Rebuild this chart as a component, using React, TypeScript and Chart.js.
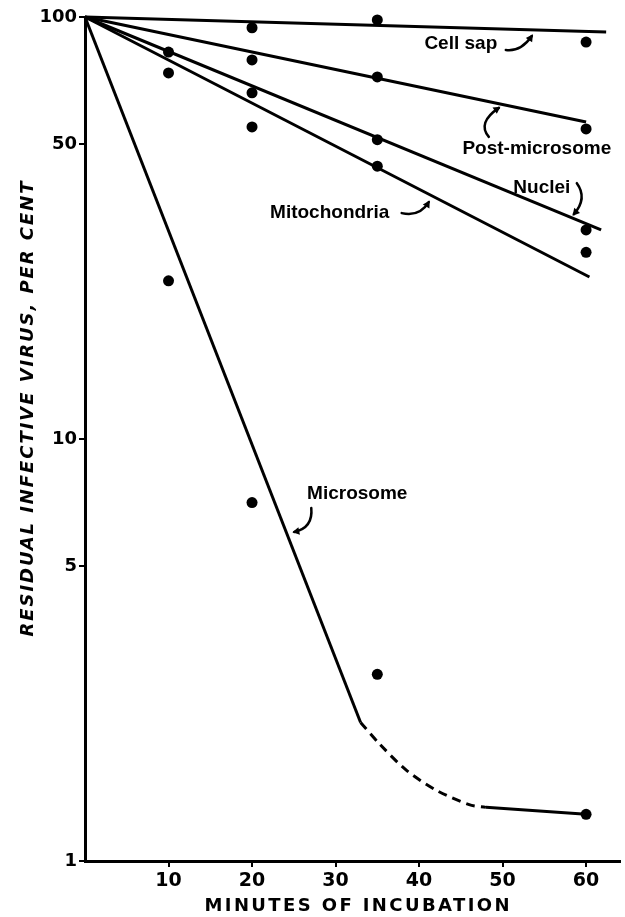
import React, { useEffect, useRef } from "react";
import { Chart, registerables } from "chart.js";
Chart.register(...registerables);

// Axis ticks
const X_TICKS = [10, 20, 30, 40, 50, 60];
const Y_TICKS = [1, 5, 10, 50, 100];

// Observed points (minutes of incubation, residual infective virus %)
const cellSapMin = [20, 35, 60];
const cellSapPct = [94.3, 98.4, 87.2];
const postMicroMin = [20, 35, 60];
const postMicroPct = [79.1, 72.1, 54.3];
const nucleiMin = [10, 20, 35, 60];
const nucleiPct = [82.6, 66.1, 51.2, 31.3];
const mitoMin = [10, 20, 35, 60];
const mitoPct = [73.7, 54.9, 44.3, 27.7];
const microMin = [10, 20, 35, 60];
const microPct = [23.7, 7.07, 2.77, 1.29];

// Fitted curves
const cellSapFitMin = [0, 62.4];
const cellSapFitPct = [100, 92.1];
const postMicroFitMin = [0, 60];
const postMicroFitPct = [100, 56.4];
const nucleiFitMin = [0, 61.8];
const nucleiFitPct = [100, 31.3];
const mitoFitMin = [0, 60.4];
const mitoFitPct = [100, 24.2];
const microFitMin = [0, 33];
const microFitPct = [100, 2.13];
const microDashMin = [33, 35.2, 38.5, 42.1, 46, 48];
const microDashPct = [2.13, 1.9, 1.64, 1.47, 1.36, 1.34];
const microTailMin = [48, 60];
const microTailPct = [1.34, 1.29];

// Curve labels (anchored in data units)
const LABELS = ["Cell sap", "Post-microsome", "Nuclei", "Mitochondria", "Microsome"];
const LABEL_MIN = [45.0, 54.1, 54.7, 29.3, 32.6];
const LABEL_PCT = [86.3, 48.7, 39.3, 34.3, 7.41];

const X_TITLE = "MINUTES OF INCUBATION";
const Y_TITLE = "RESIDUAL INFECTIVE VIRUS, PER CENT";

// arrow shapes: pixel offsets from label centre [sx, sy, cx, cy, ex, ey]
const ARROWS = [
  [45, 6, 60, 8, 71, -8],
  [-48, -12, -60, -26, -38, -41],
  [35, -5, 46, 10, 32, 26],
  [72, 0, 90, 4, 99, -11],
  [-46, 14, -44, 34, -63, 38],
];

const zip = (xs: number[], ys: number[]) => xs.map((x, i) => ({ x, y: ys[i] }));

const lineDs = (xs: number[], ys: number[], extra: any = {}) => ({
  data: zip(xs, ys),
  showLine: true,
  pointRadius: 0,
  borderColor: "#000",
  borderWidth: 3,
  fill: false,
  clip: false,
  ...extra,
});
const pointDs = (xs: number[], ys: number[]) => ({
  data: zip(xs, ys),
  showLine: false,
  pointRadius: 5.5,
  pointBackgroundColor: "#000",
  pointBorderColor: "#000",
  pointBorderWidth: 0,
  clip: false,
});

const drawSpaced = (ctx: CanvasRenderingContext2D, text: string, target: number) => {
  (ctx as any).letterSpacing = "0px";
  const w = ctx.measureText(text).width;
  const sp = Math.max(0, (target - w) / (text.length - 1));
  (ctx as any).letterSpacing = sp + "px";
  ctx.textAlign = "left";
  ctx.fillText(text, -target / 2, 0);
  (ctx as any).letterSpacing = "0px";
};

const annotate = {
  id: "annotate",
  afterDraw(chart: any) {
    const { ctx } = chart;
    const xs = chart.scales.x;
    const ys = chart.scales.y;
    ctx.save();
    ctx.fillStyle = "#000";
    ctx.strokeStyle = "#000";
    ctx.font = 'bold 19px "Liberation Sans"';
    ctx.textAlign = "center";
    ctx.textBaseline = "middle";
    LABELS.forEach((t, i) => {
      const px = xs.getPixelForValue(LABEL_MIN[i]);
      const py = ys.getPixelForValue(LABEL_PCT[i]);
      ctx.fillText(t, px, py);
      const [sx, sy, cx, cy, ex, ey] = ARROWS[i];
      ctx.lineWidth = 2.5;
      ctx.lineCap = "round";
      ctx.beginPath();
      ctx.moveTo(px + sx, py + sy);
      ctx.quadraticCurveTo(px + cx, py + cy, px + ex, py + ey);
      ctx.stroke();
      const ang = Math.atan2(ey - cy, ex - cx);
      const hx = px + ex + Math.cos(ang) * 2;
      const hy = py + ey + Math.sin(ang) * 2;
      const L = 8, W = 0.5;
      ctx.beginPath();
      ctx.moveTo(hx, hy);
      ctx.lineTo(hx - L * Math.cos(ang - W), hy - L * Math.sin(ang - W));
      ctx.lineTo(hx - L * Math.cos(ang + W), hy - L * Math.sin(ang + W));
      ctx.closePath();
      ctx.fill();
    });

    // x-axis title
    ctx.font = 'bold 18px "DejaVu Sans"';
    ctx.textBaseline = "alphabetic";
    ctx.save();
    ctx.translate(357, 911);
    drawSpaced(ctx, X_TITLE, 305);
    ctx.restore();

    // y-axis title
    ctx.font = 'italic bold 18px "DejaVu Sans"';
    ctx.textBaseline = "middle";
    ctx.save();
    ctx.translate(28, 409);
    ctx.rotate(-Math.PI / 2);
    drawSpaced(ctx, Y_TITLE, 455);
    ctx.restore();
    ctx.restore();
  },
};

export default function App() {
  const ref = useRef<HTMLCanvasElement | null>(null);
  useEffect(() => {
    document.body.style.margin = "0";
    const canvas = ref.current!;
    const chart = new Chart(canvas, {
      type: "scatter",
      data: {
        datasets: [
          lineDs(cellSapFitMin, cellSapFitPct),
          lineDs(postMicroFitMin, postMicroFitPct),
          lineDs(nucleiFitMin, nucleiFitPct),
          lineDs(mitoFitMin, mitoFitPct),
          lineDs(microFitMin, microFitPct),
          lineDs(microDashMin, microDashPct, { borderDash: [9, 6], tension: 0.3 }),
          lineDs(microTailMin, microTailPct),
          pointDs(cellSapMin, cellSapPct),
          pointDs(postMicroMin, postMicroPct),
          pointDs(nucleiMin, nucleiPct),
          pointDs(mitoMin, mitoPct),
          pointDs(microMin, microPct),
        ] as any,
      },
      options: {
        animation: false,
        responsive: false,
        devicePixelRatio: 1,
        events: [],
        layout: { padding: { top: 17, right: 4, left: 0, bottom: 0 } },
        plugins: { legend: { display: false }, tooltip: { enabled: false } },
        scales: {
          x: {
            type: "linear",
            min: 0,
            max: 64,
            border: { display: true, color: "#000", width: 3 },
            grid: { display: true, drawOnChartArea: false, drawTicks: true, tickLength: 6, color: "#000", lineWidth: 2 },
            ticks: { color: "#000", font: { family: "DejaVu Sans", size: 19, weight: "bold" }, padding: 3, maxRotation: 0, autoSkip: false },
            afterBuildTicks: (s: any) => { s.ticks = X_TICKS.map((v) => ({ value: v })); },
            afterFit: (s: any) => { s.height = 56; },
          },
          y: {
            type: "logarithmic",
            min: 1,
            max: 100,
            border: { display: true, color: "#000", width: 3 },
            grid: { display: true, drawOnChartArea: false, drawTicks: true, tickLength: 6, color: "#000", lineWidth: 2 },
            ticks: { color: "#000", font: { family: "DejaVu Sans", size: 18, weight: "bold" }, padding: 2, autoSkip: false, callback: (v: any) => String(v) },
            afterBuildTicks: (s: any) => { s.ticks = Y_TICKS.map((v) => ({ value: v })); },
            afterFit: (s: any) => { s.width = 85; },
          },
        },
      } as any,
      plugins: [annotate],
    });
    return () => chart.destroy();
  }, []);
  return (
    <div style={{ width: 625, height: 917, background: "#fff" }}>
      <canvas ref={ref} width={625} height={917} style={{ display: "block" }} />
    </div>
  );
}
